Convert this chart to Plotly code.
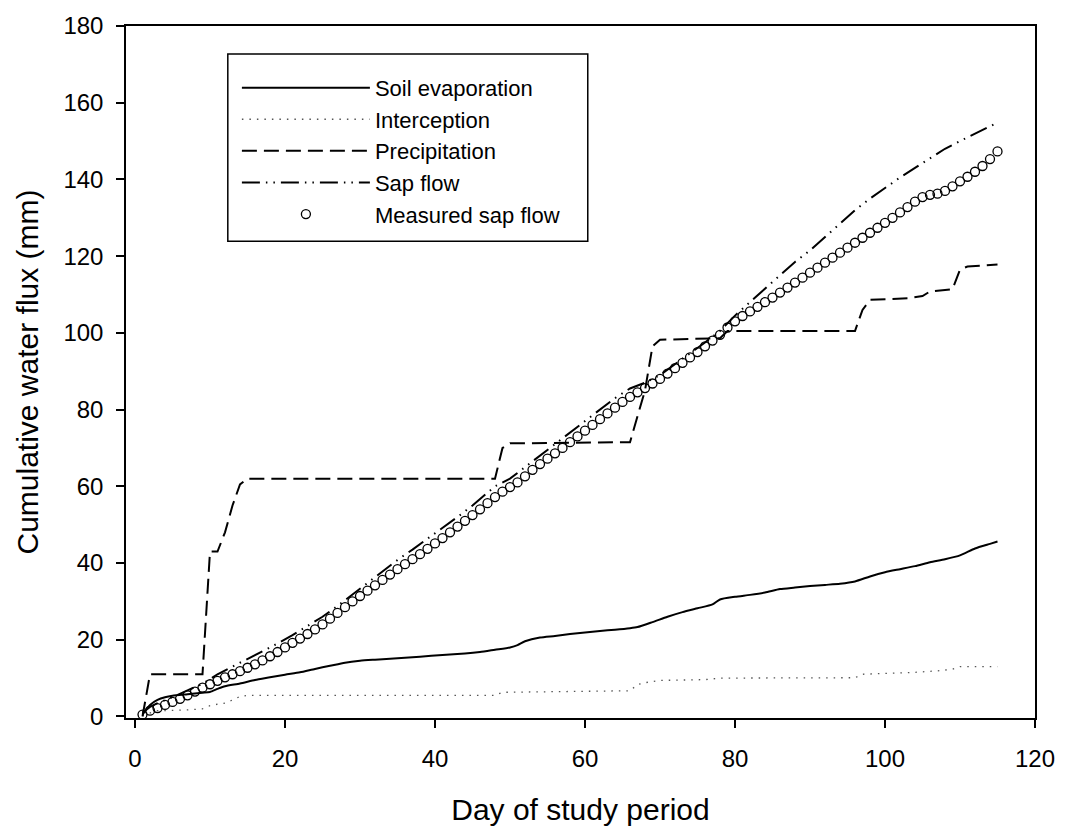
import plotly.graph_objects as go

# ---------------- data ----------------
measured_days = list(range(1, 116))
measured_sap = [
    0.5, 1.5, 2.2, 3.0, 3.8, 4.6, 5.5, 6.5, 7.5, 8.4,
    9.3, 10.2, 11.0, 11.8, 12.7, 13.6, 14.6, 15.7, 16.8, 18.0,
    19.2, 20.3, 21.5, 22.7, 24.0, 25.5, 27.0, 28.5, 30.0, 31.4,
    32.8, 34.2, 35.6, 37.0, 38.4, 39.7, 41.0, 42.3, 43.7, 45.1,
    46.5, 48.0, 49.5, 51.0, 52.5, 54.0, 55.6, 57.2, 58.6, 59.8,
    61.0, 62.6, 64.3, 65.8, 67.2, 68.6, 70.0, 71.5, 73.0, 74.5,
    76.0, 77.5, 79.0, 80.5, 82.0, 83.3, 84.5, 85.6, 86.8, 88.0,
    89.4, 90.8, 92.2, 93.6, 95.0, 96.5, 98.0, 99.5, 101.4, 103.0,
    104.4, 105.6, 106.8, 108.0, 109.2, 110.5, 111.8, 113.1, 114.4, 115.7,
    117.0, 118.3, 119.6, 120.9, 122.2, 123.5, 124.8, 126.1, 127.4, 128.7,
    130.0, 131.4, 132.8, 134.2, 135.4, 136.0, 136.3, 137.0, 138.2, 139.5,
    140.7, 142.0, 143.5, 145.3, 147.3,
]

sap_days = [1, 2, 3, 5, 7, 9, 11, 13, 15, 17, 19, 21, 23, 25, 27, 29, 31, 33, 35, 37,
            39, 41, 43, 45, 47, 48, 50, 52, 54, 56, 58, 60, 62, 64, 66, 68, 70, 72, 74, 76,
            78, 80, 82, 84, 86, 88, 90, 92, 94, 96, 98, 100, 102, 104, 106, 108, 110, 112, 114, 115]
sap_flow = [1.0, 2.5, 3.5, 5.0, 6.8, 8.5, 11.0, 13.0, 14.8, 16.8, 19.0, 21.2, 23.5, 26.0, 28.8,
            31.8, 34.8, 37.8, 40.8, 43.5, 46.3, 49.0, 52.0, 55.0, 58.2, 60.0, 62.0, 65.0, 68.0, 71.0,
            74.0, 77.0, 80.0, 83.0, 85.5, 87.0, 89.0, 91.8, 94.5, 97.5, 100.5, 104.5, 108.0, 111.5,
            115.0, 118.5, 121.5, 125.0, 128.5, 132.0, 135.0, 137.8, 140.5, 143.0, 145.5, 148.0,
            150.0, 152.0, 153.8, 154.8]

soil_days = [1, 2, 3, 4, 5, 7, 9, 10, 11, 12, 14, 16, 18, 20, 22, 24, 26, 28, 30, 32, 35, 38,
             41, 44, 46, 48, 50, 51, 52, 54, 56, 58, 60, 62, 64, 66, 67, 69, 71, 73, 75, 77, 78,
             80, 82, 84, 86, 88, 90, 92, 94, 96, 98, 100, 102, 104, 106, 108, 110, 112, 114, 115]
soil_evap = [0.5, 3.0, 4.3, 5.0, 5.4, 5.8, 6.2, 6.4, 7.2, 7.9, 8.6, 9.5, 10.2, 10.9, 11.5, 12.4,
             13.2, 14.0, 14.5, 14.8, 15.2, 15.6, 16.0, 16.4, 16.8, 17.4, 18.0, 18.6, 19.6, 20.6,
             21.0, 21.5, 21.9, 22.3, 22.6, 23.0, 23.3, 24.6, 26.0, 27.2, 28.2, 29.2, 30.5, 31.2,
             31.7, 32.3, 33.2, 33.6, 34.0, 34.3, 34.6, 35.2, 36.5, 37.6, 38.4, 39.2, 40.2, 41.0,
             42.0, 43.8, 45.0, 45.6]

interc_days = [1, 2, 3, 5, 7, 9, 10, 11, 12, 13, 14, 15, 48, 49, 66, 67, 68, 70, 72, 76, 78,
               96, 97, 100, 104, 107, 109, 110, 115]
interception = [0.3, 1.0, 1.5, 1.6, 1.7, 2.0, 2.8, 3.2, 3.5, 4.3, 5.2, 5.5, 5.5, 6.3, 6.7, 8.3,
                8.8, 9.4, 9.5, 9.6, 10.0, 10.1, 11.0, 11.2, 11.5, 11.9, 12.3, 13.0, 13.0]

precip_days = [1, 2, 9, 10, 11, 12, 13, 14, 15, 48, 49, 50, 66, 67, 68, 69, 70, 78, 79, 96,
               97, 98, 103, 105, 106, 108, 109, 110, 111, 115]
precipitation = [0.0, 11.0, 11.0, 43.0, 43.0, 48.0, 55.0, 60.5, 62.0, 62.0, 70.0, 71.2, 71.5,
                 78.0, 85.0, 96.5, 98.2, 98.6, 100.5, 100.5, 106.0, 108.6, 109.0, 109.6, 110.8,
                 111.2, 111.4, 116.5, 117.3, 117.8]

x_ticks = [0, 20, 40, 60, 80, 100, 120]
y_ticks = [0, 20, 40, 60, 80, 100, 120, 140, 160, 180]

FONT = "Liberation Sans, Arial, sans-serif"

fig = go.Figure()
fig.add_trace(go.Scatter(x=soil_days, y=soil_evap, mode="lines", name="Soil evaporation",
                         line=dict(color="black", width=2, shape="spline", smoothing=0.6)))
fig.add_trace(go.Scatter(x=interc_days, y=interception, mode="lines", name="Interception",
                         line=dict(color="#555555", width=1.3, dash="1.5px,6px")))
fig.add_trace(go.Scatter(x=precip_days, y=precipitation, mode="lines", name="Precipitation",
                         line=dict(color="black", width=2, dash="15px,7px")))
fig.add_trace(go.Scatter(x=sap_days, y=sap_flow, mode="lines", name="Sap flow",
                         line=dict(color="black", width=2,
                                   dash="18px,6px,1.5px,6px,1.5px,6px")))
fig.add_trace(go.Scatter(x=measured_days, y=measured_sap, mode="markers", name="Measured sap flow",
                         marker=dict(symbol="circle-open", size=9, color="black",
                                     line=dict(width=1.3, color="black"))))

axis_common = dict(
    showline=True, linecolor="black", linewidth=1.5, mirror=True,
    ticks="outside", ticklen=8, tickwidth=1.5, tickcolor="black",
    showgrid=False, zeroline=False,
    tickfont=dict(family=FONT, size=24, color="black"),
)

fig.update_xaxes(range=[-1.2, 120], tickvals=x_ticks, ticktext=[str(v) for v in x_ticks],
                 title=dict(text="Day of study period", font=dict(family=FONT, size=30, color="black"),
                            standoff=28),
                 ticklabelstandoff=10, **axis_common)
fig.update_yaxes(range=[-0.4, 180], tickvals=y_ticks, ticktext=[str(v) for v in y_ticks],
                 title=dict(text="Cumulative water flux (mm)",
                            font=dict(family=FONT, size=30, color="black"), standoff=16),
                 ticklabelstandoff=8, **axis_common)

# legend frame (decoration only), sized like the reference box
fig.add_shape(type="rect", xref="paper", yref="paper",
              x0=0.112, x1=0.508, y0=0.689, y1=0.9597,
              line=dict(color="black", width=1.5), fillcolor="white", layer="above")

fig.update_layout(
    width=1067, height=834,
    margin=dict(l=126, r=31, t=23, b=116),
    paper_bgcolor="white", plot_bgcolor="white",
    font=dict(family=FONT, color="black"),
    showlegend=True,
    legend=dict(x=0.122, y=0.941, xanchor="left", yanchor="top",
                bgcolor="rgba(0,0,0,0)", borderwidth=0,
                font=dict(family=FONT, size=22, color="black"),
                itemwidth=128, itemsizing="trace", tracegroupgap=0),
)

fig.write_html("out.html")
